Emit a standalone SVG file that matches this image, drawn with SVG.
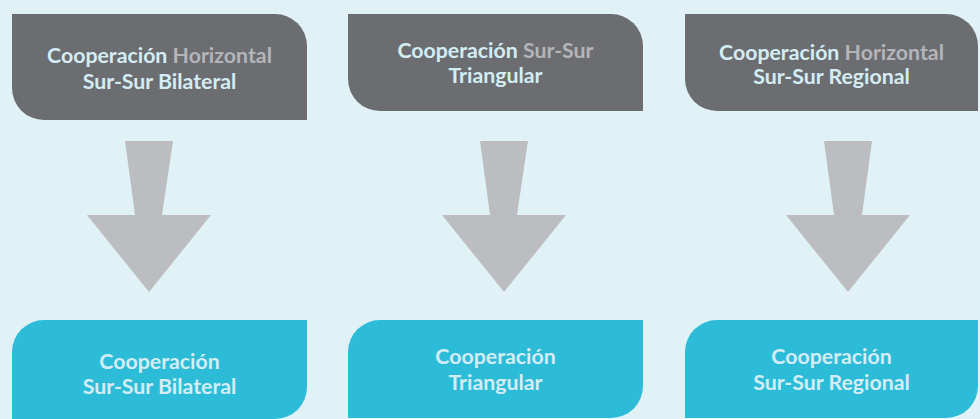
<svg xmlns="http://www.w3.org/2000/svg" width="980" height="419" viewBox="0 0 980 419">
<style>
.top{fill:#6c6d71}
.bot{fill:#2dbcd8}
.arr{fill:#bcbdc1}
text{font-family:Lato,"Open Sans","Liberation Sans",sans-serif;font-weight:bold;font-size:21.3px;text-anchor:middle;fill:#d4edf4}
.hl{fill:#b4b5b9}
</style>
<rect width="980" height="419" fill="#e1f2f7"/>
<g id="top1">
<path class="top" d="M12,14 H275 A32,32 0 0 1 307,46 V120 H44 A32,32 0 0 1 12,88 Z"/>
<text x="159.5" y="63">Cooperación <tspan class="hl">Horizontal</tspan></text>
<text x="159.5" y="89">Sur-Sur Bilateral</text>
</g>
<g id="top2">
<path class="top" d="M348,14 H611 A32,32 0 0 1 643,46 V111 H380 A32,32 0 0 1 348,79 Z"/>
<text x="495.5" y="58">Cooperación <tspan class="hl">Sur-Sur</tspan></text>
<text x="495.5" y="83">Triangular</text>
</g>
<g id="top3">
<path class="top" d="M685,14 H946 A32,32 0 0 1 978,46 V111 H717 A32,32 0 0 1 685,79 Z"/>
<text x="831.5" y="60">Cooperación <tspan class="hl">Horizontal</tspan></text>
<text x="831.5" y="84">Sur-Sur Regional</text>
</g>
<g id="connectors">
<path class="arr" d="M125,141 H173 L162,215 H211 L149,292 L87,215 H135 Z"/>
<path class="arr" d="M480,141 H528 L517,215 H566 L504,292 L442,215 H490 Z"/>
<path class="arr" d="M824,141 H872 L862,215 H910 L848,292 L786,215 H834 Z"/>
</g>
<g id="bot1">
<path class="bot" d="M44,320 H307 V387 A32,32 0 0 1 275,419 H12 V352 A32,32 0 0 1 44,320 Z"/>
<text x="159.5" y="369">Cooperación</text>
<text x="159.5" y="394">Sur-Sur Bilateral</text>
</g>
<g id="bot2">
<path class="bot" d="M380,320 H643 V386 A32,32 0 0 1 611,418 H348 V352 A32,32 0 0 1 380,320 Z"/>
<text x="495.5" y="364">Cooperación</text>
<text x="495.5" y="390">Triangular</text>
</g>
<g id="bot3">
<path class="bot" d="M717,320 H978 V386 A32,32 0 0 1 946,418 H685 V352 A32,32 0 0 1 717,320 Z"/>
<text x="831.5" y="364">Cooperación</text>
<text x="831.5" y="390">Sur-Sur Regional</text>
</g>
</svg>
